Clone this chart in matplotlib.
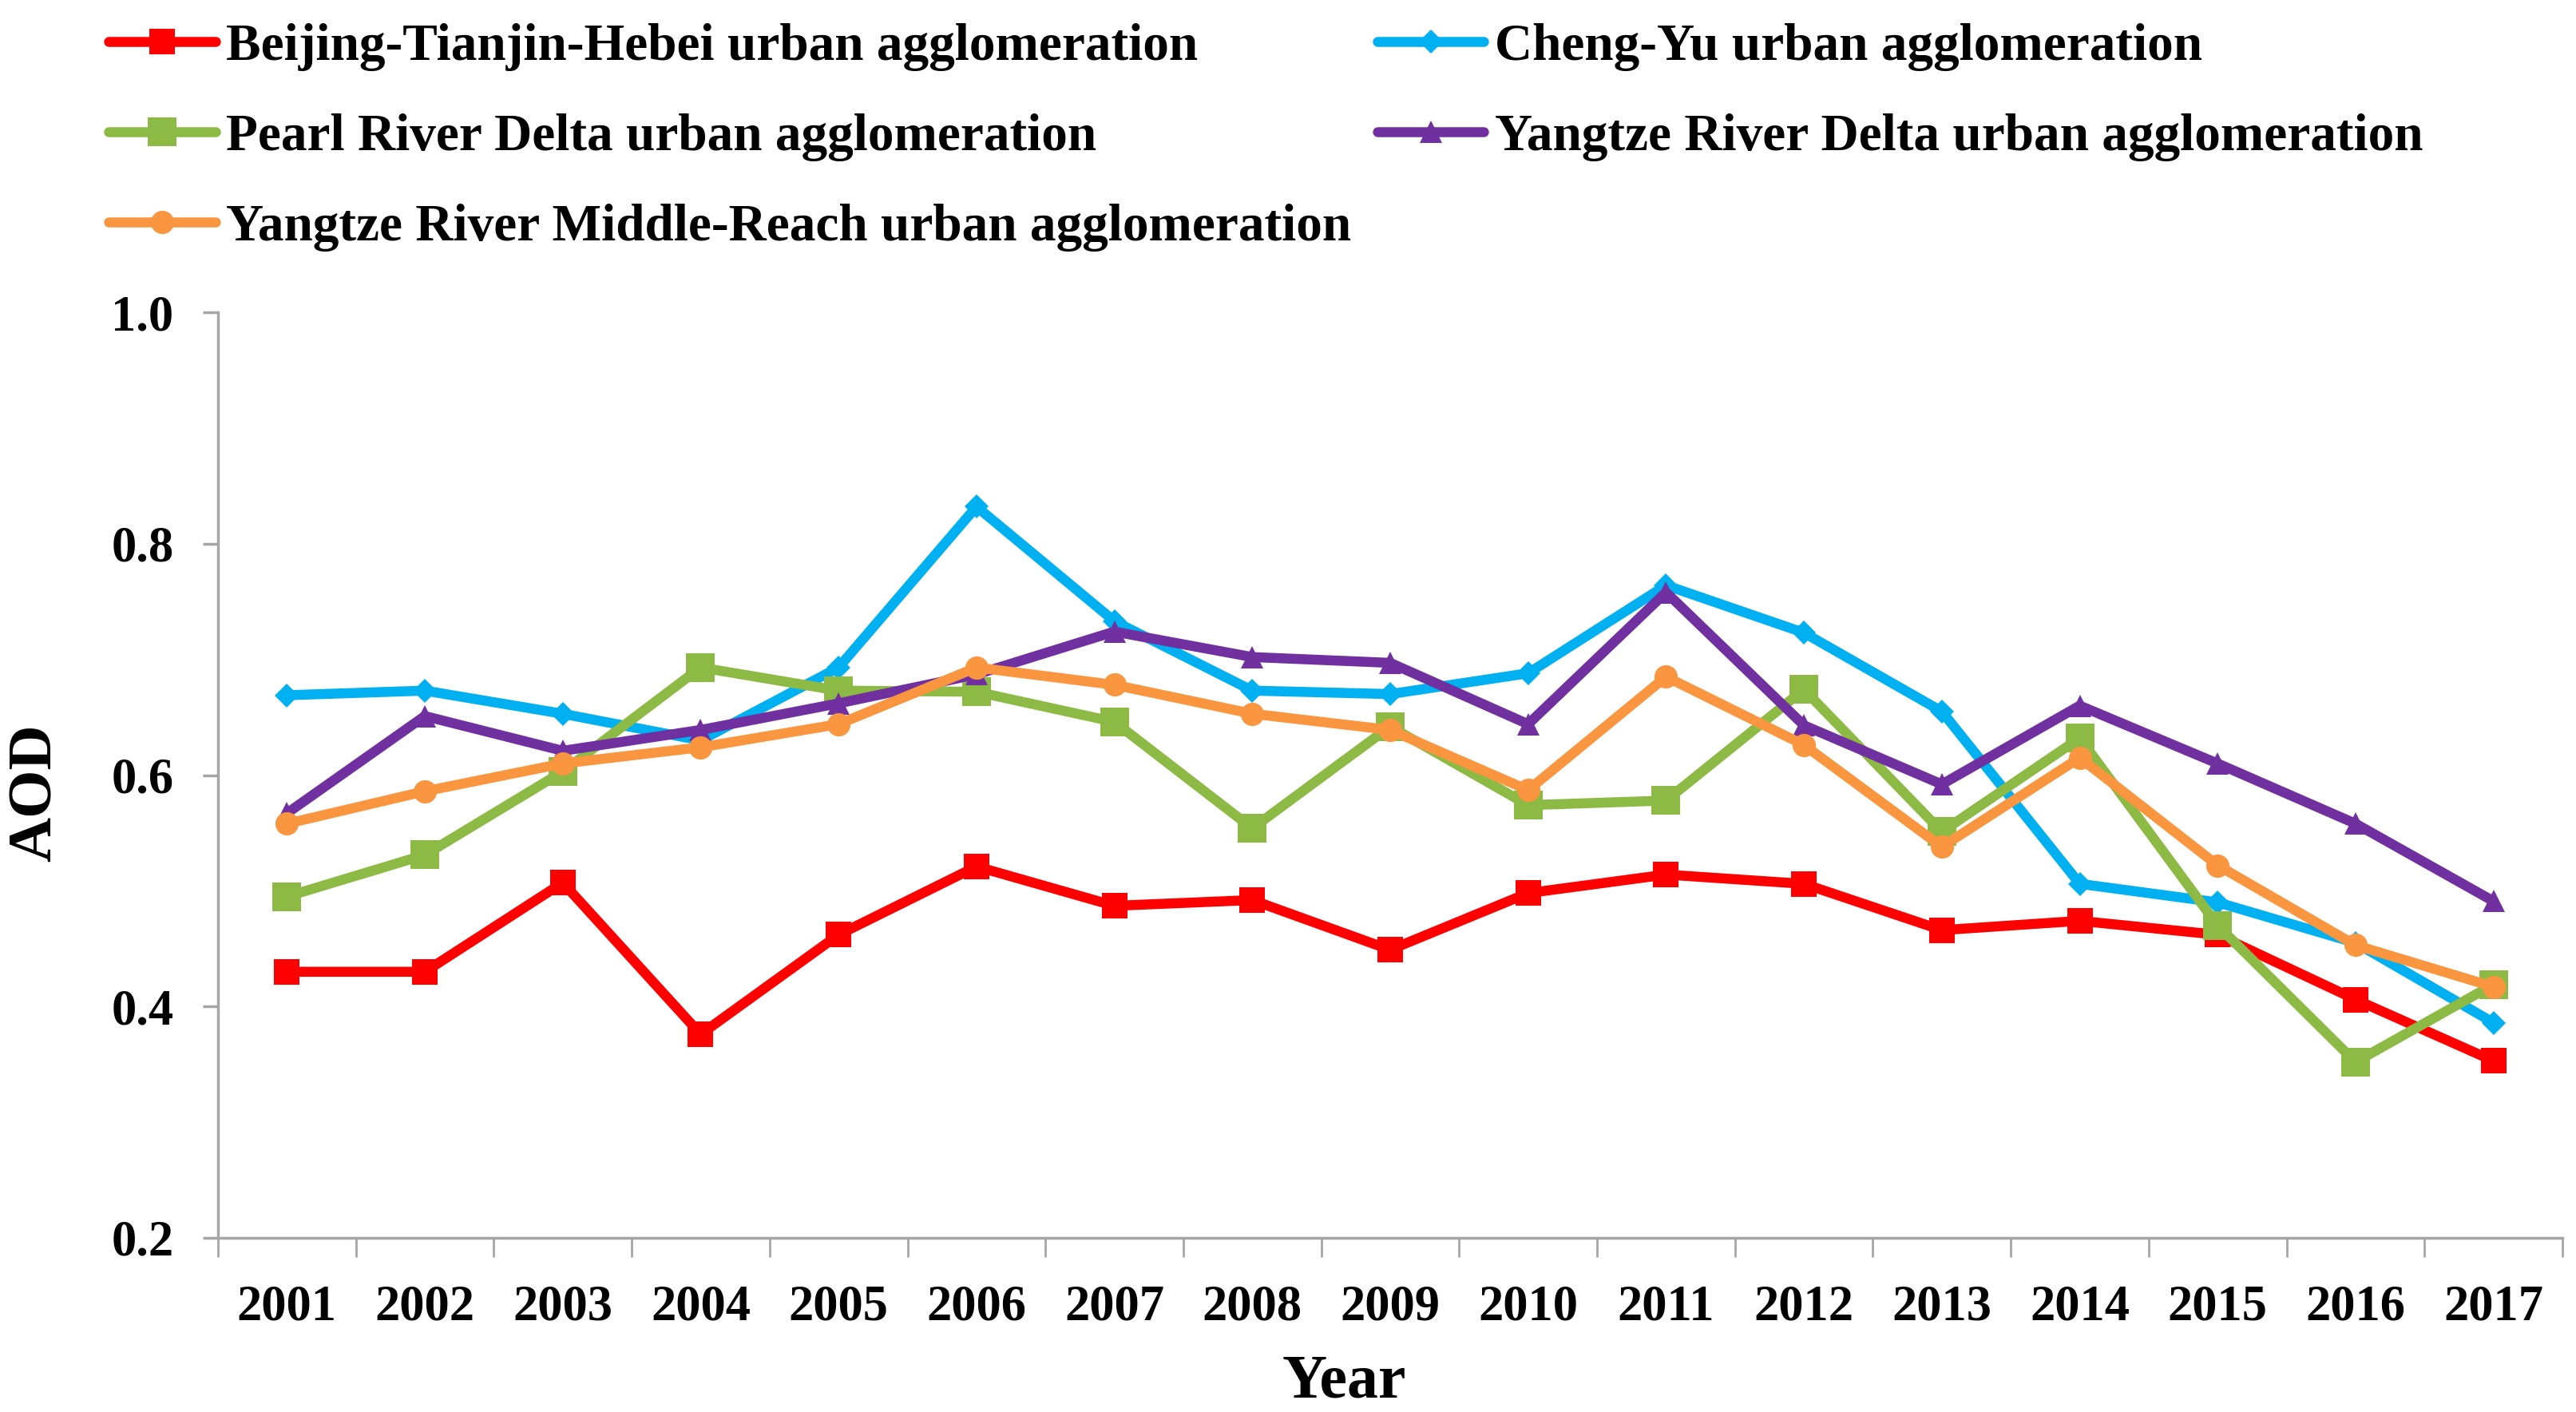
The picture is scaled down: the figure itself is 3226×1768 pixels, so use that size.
import numpy as np
import matplotlib
matplotlib.use("Agg")
import matplotlib.pyplot as plt

plt.rcParams['font.family'] = ['Liberation Serif', 'DejaVu Serif']
plt.rcParams['font.weight'] = 'bold'

years = [str(y) for y in range(2001, 2018)]

# AOD values
bth = [0.430, 0.430, 0.507, 0.376, 0.462, 0.521, 0.487, 0.492, 0.449, 0.498,
       0.514, 0.506, 0.466, 0.474, 0.462, 0.406, 0.353]
chengyu = [0.669, 0.673, 0.653, 0.630, 0.693, 0.832, 0.733, 0.673, 0.670, 0.688,
           0.764, 0.723, 0.655, 0.506, 0.490, 0.455, 0.386]
prd = [0.495, 0.531, 0.603, 0.693, 0.673, 0.672, 0.646, 0.554, 0.642, 0.574,
       0.578, 0.674, 0.551, 0.632, 0.470, 0.352, 0.419]
yrd = [0.567, 0.651, 0.621, 0.639, 0.662, 0.687, 0.724, 0.702, 0.697, 0.644,
       0.758, 0.643, 0.592, 0.660, 0.610, 0.558, 0.491]
yrmr = [0.558, 0.586, 0.610, 0.624, 0.644, 0.693, 0.678, 0.653, 0.639, 0.587,
        0.685, 0.626, 0.538, 0.615, 0.522, 0.453, 0.417]

labels = ["Beijing-Tianjin-Hebei urban agglomeration",
          "Cheng-Yu urban agglomeration",
          "Pearl River Delta urban agglomeration",
          "Yangtze River Delta urban agglomeration",
          "Yangtze River Middle-Reach urban agglomeration"]
colors = ["#FF0000", "#00B0F0", "#8DBA45", "#7030A0", "#F9963F"]
markers = ["s", "D", "s", "^", "o"]
msizes = [23, 15, 26, 20, 21]

W, H = 3226, 1768
fig = plt.figure(figsize=(W / 100, H / 100), dpi=100)
ax = fig.add_axes([273 / W, 1 - 1550 / H, (3209 - 273) / W, (1550 - 391) / H])

x = np.arange(len(years))
lines = []
for vals, lab, c, m, ms in zip([bth, chengyu, prd, yrd, yrmr], labels, colors, markers, msizes):
    ln, = ax.plot(x, vals, color=c, marker=m, markersize=ms, linewidth=9,
                  markeredgewidth=0, label=lab, solid_joinstyle='round',
                  solid_capstyle='round')
    lines.append(ln)

ax.set_xlim(-0.5, len(years) - 0.5)
ax.set_ylim(0.2, 1.0)
ax.set_yticks([0.2, 0.4, 0.6, 0.8, 1.0])
ax.set_yticklabels(["0.2", "0.4", "0.6", "0.8", "1.0"])
ax.set_xticks(np.arange(-0.5, len(years), 1.0))
ax.set_xticklabels([])
ax.set_xticks(x, minor=True)
ax.set_xticklabels(years, minor=True)

for s in ["top", "right"]:
    ax.spines[s].set_visible(False)
for s in ["left", "bottom"]:
    ax.spines[s].set_color("#A6A6A6")
    ax.spines[s].set_linewidth(2.5)

ax.tick_params(axis='x', which='major', direction='out', length=17, width=2, color="#A6A6A6")
ax.tick_params(axis='x', which='minor', length=0, pad=42, labelsize=45)
ax.tick_params(axis='y', which='major', direction='out', length=14, width=2.5,
               color="#A6A6A6", pad=26, labelsize=45)
for t in ax.get_xticklabels(minor=True) + ax.get_yticklabels():
    t.set_fontweight('bold')

ax.set_xlabel("Year", fontsize=56, fontweight='bold')
ax.xaxis.set_label_coords(1683 / W, 18 / H, transform=fig.transFigure)
ax.xaxis.label.set_va('baseline')
ax.set_ylabel("AOD", fontsize=56, fontweight='bold')
ax.yaxis.set_label_coords(45 / W, 1 - 993 / H, transform=fig.transFigure)
ax.yaxis.label.set_va('center')

order = [0, 2, 4, 1, 3]
leg = fig.legend([lines[i] for i in order], [labels[i] for i in order],
                 loc='upper left', bbox_to_anchor=(136 / W, 1 - 29 / H), ncol=2,
                 frameon=False, fontsize=47, handlelength=2.05, handletextpad=0.2,
                 columnspacing=0.5, labelspacing=0.81, borderpad=0, borderaxespad=0)
for t in leg.get_texts():
    t.set_fontweight('bold')

fig.savefig("out.png", dpi=100)
